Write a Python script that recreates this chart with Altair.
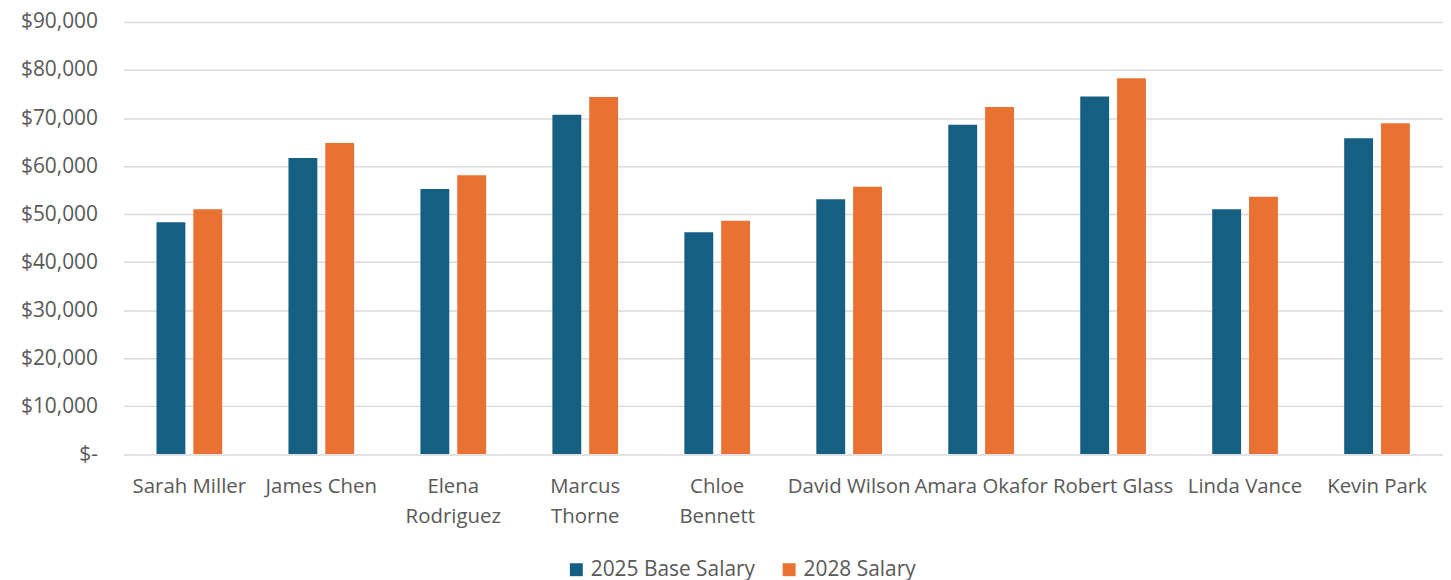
import altair as alt
import pandas as pd

names = ["Sarah Miller", "James Chen", "Elena Rodriguez", "Marcus Thorne", "Chloe Bennett",
         "David Wilson", "Amara Okafor", "Robert Glass", "Linda Vance", "Kevin Park"]
salary_2025 = [48300, 61700, 55200, 70700, 46200, 53100, 68600, 74500, 51000, 65800]
salary_2028 = [51000, 64800, 58100, 74400, 48600, 55700, 72300, 78300, 53600, 68900]
series_names = ["2025 Base Salary", "2028 Salary"]
series_colors = ["#156082", "#E97132"]
y_ticks = [0, 10000, 20000, 30000, 40000, 50000, 60000, 70000, 80000, 90000]

rows = []
for n, a, b in zip(names, salary_2025, salary_2028):
    rows.append({"name": n, "series": series_names[0], "value": a})
    rows.append({"name": n, "series": series_names[1], "value": b})
df = pd.DataFrame(rows)

FONT = "Open Sans"
GREY = "#595959"

chart = alt.Chart(df).mark_bar().encode(
    x=alt.X("name:N", sort=names, title=None,
            scale=alt.Scale(paddingInner=0, paddingOuter=0),
            axis=alt.Axis(labelAngle=0, labelFont=FONT, labelFontSize=20.5, labelColor=GREY,
                          labelPadding=23, labelLineHeight=30, ticks=False, domain=False,
                          labelExpr="length(datum.label) > 12 ? split(datum.label, ' ') : datum.label")),
    xOffset=alt.XOffset("series:N", sort=series_names,
                        scale=alt.Scale(paddingInner=0.216, paddingOuter=0.9)),
    y=alt.Y("value:Q", title=None,
            scale=alt.Scale(domain=[0, 90000], nice=False),
            axis=alt.Axis(values=y_ticks, labelFont=FONT, labelFontSize=21, labelColor=GREY,
                          labelPadding=26, ticks=False, domain=False,
                          grid=True, gridColor="#D9D9D9", gridWidth=1.5,
                          minExtent=116, maxExtent=116,
                          labelExpr="datum.value == 0 ? '$-' : '$' + format(datum.value, ',')")),
    color=alt.Color("series:N", sort=series_names,
                    scale=alt.Scale(domain=series_names, range=series_colors),
                    legend=alt.Legend(title=None, orient="none", legendX=445, legendY=540,
                                      direction="horizontal", symbolType="square", symbolSize=169,
                                      symbolStrokeWidth=0, labelFont=FONT, labelFontSize=21,
                                      labelLimit=0, labelColor=GREY, columnPadding=23,
                                      labelOffset=4)),
).properties(
    width=1327, height=434.5,
    autosize=alt.AutoSizeParams(type="none"),
    padding={"left": 116, "right": 0, "top": 12.5, "bottom": 125},
).configure_view(stroke=None)

chart.save("out.html", embed_options={"renderer": "svg", "actions": False})
